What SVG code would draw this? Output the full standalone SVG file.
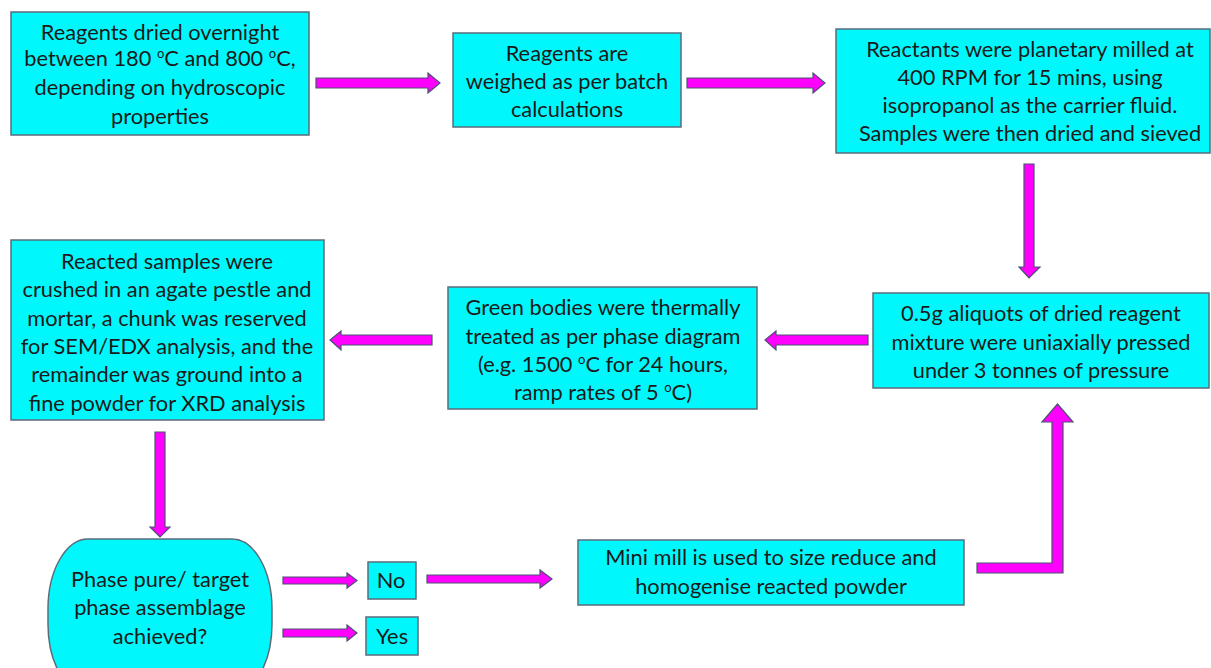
<svg xmlns="http://www.w3.org/2000/svg" width="1211" height="668" viewBox="0 0 1211 668">
  <defs>
    <style>
      .box { fill: #00F8FC; stroke: #5B6B7A; stroke-width: 1.5; }
      .arr { fill: #FF00FF; stroke: #4A5270; stroke-width: 1.2; stroke-linejoin: miter; }
      text { font-family: Lato, "Liberation Sans", sans-serif; font-size: 21.8px; fill: #1A1A1A; text-anchor: middle; }
      .sup { font-size: 13px; }
    </style>
  </defs>
  <rect width="1211" height="668" fill="#FFFFFF"/>

  <!-- connectors -->
  <g id="connectors">
    <!-- right arrows, top row -->
    <polygon class="arr" points="316,78 428,78 428,73 440,83 428,93 428,88 316,88"/>
    <polygon class="arr" points="687,78 813,78 813,73 825,83 813,93 813,88 687,88"/>
    <!-- down to pressing -->
    <polygon class="arr" points="1024,164 1034,164 1034,267 1040,267 1029,278 1019,267 1024,267"/>
    <!-- left arrows, middle row -->
    <polygon class="arr" points="868,335 776,335 776,331 765,340 776,350 776,345 868,345"/>
    <polygon class="arr" points="432,335 341,335 341,331 330,340 341,350 341,345 432,345"/>
    <!-- down to decision -->
    <polygon class="arr" points="155,432 165,432 165,527 170,527 160,537 150,527 155,527"/>
    <!-- decision branches -->
    <polygon class="arr" points="283,577 347,577 347,573 357,580.5 347,588 347,584 283,584"/>
    <polygon class="arr" points="283,629 347,629 347,625 357,633 347,641 347,637 283,637"/>
    <polygon class="arr" points="427,575 540,575 540,570 552,579 540,588 540,583 427,583"/>
    <!-- elbow back to pressing -->
    <polygon class="arr" points="977,563 1052,563 1052,422 1042,422 1057.5,404 1073,422 1063,422 1063,573 977,573"/>
  </g>

  <g id="n-dry">
    <rect class="box" x="11" y="12" width="298" height="123"/>
    <text x="160" y="40">Reagents dried overnight</text>
    <text x="160" y="66">between 180 <tspan class="sup" dy="-8">o</tspan><tspan dy="8">C and 800 </tspan><tspan class="sup" dy="-8">o</tspan><tspan dy="8">C,</tspan></text>
    <text x="160" y="95">depending on hydroscopic</text>
    <text x="160" y="124">properties</text>
  </g>

  <g id="n-weigh">
    <rect class="box" x="453" y="33" width="228" height="94"/>
    <text x="567" y="61">Reagents are</text>
    <text x="567" y="89">weighed as per batch</text>
    <text x="567" y="117">calculations</text>
  </g>

  <g id="n-mill">
    <rect class="box" x="836" y="29" width="374" height="124"/>
    <text x="1030" y="57">Reactants were planetary milled at</text>
    <text x="1030" y="85">400 RPM for 15 mins, using</text>
    <text x="1030" y="113">isopropanol as the carrier fluid.</text>
    <text x="1030" y="141">Samples were then dried and sieved</text>
  </g>

  <g id="n-press">
    <rect class="box" x="873" y="293" width="336" height="95"/>
    <text x="1041" y="321">0.5g aliquots of dried reagent</text>
    <text x="1041" y="350">mixture were uniaxially pressed</text>
    <text x="1041" y="378">under 3 tonnes of pressure</text>
  </g>

  <g id="n-heat">
    <rect class="box" x="448" y="287" width="309" height="122"/>
    <text x="603" y="315">Green bodies were thermally</text>
    <text x="603" y="344">treated as per phase diagram</text>
    <text x="603" y="372">(e.g. 1500 <tspan class="sup" dy="-8">o</tspan><tspan dy="8">C for 24 hours,</tspan></text>
    <text x="603" y="400">ramp rates of 5 <tspan class="sup" dy="-8">o</tspan><tspan dy="8">C)</tspan></text>
  </g>

  <g id="n-crush">
    <rect class="box" x="11" y="240" width="313" height="180"/>
    <text x="167" y="269">Reacted samples were</text>
    <text x="167" y="297">crushed in an agate pestle and</text>
    <text x="167" y="326">mortar, a chunk was reserved</text>
    <text x="167" y="354">for SEM/EDX analysis, and the</text>
    <text x="167" y="382">remainder was ground into a</text>
    <text x="167" y="411">fine powder for XRD analysis</text>
  </g>

  <g id="n-decision">
    <rect class="box" x="48" y="539" width="224" height="155" rx="40" ry="70"/>
    <text x="160" y="587">Phase pure/ target</text>
    <text x="160" y="615">phase assemblage</text>
    <text x="160" y="644">achieved?</text>
  </g>

  <g id="n-no">
    <rect class="box" x="368" y="562" width="48" height="37"/>
    <text x="391" y="588">No</text>
  </g>

  <g id="n-yes">
    <rect class="box" x="366" y="617" width="52" height="38"/>
    <text x="392" y="644">Yes</text>
  </g>

  <g id="n-minimill">
    <rect class="box" x="578" y="540" width="386" height="65"/>
    <text x="771" y="565">Mini mill is used to size reduce and</text>
    <text x="771" y="594">homogenise reacted powder</text>
  </g>
</svg>
